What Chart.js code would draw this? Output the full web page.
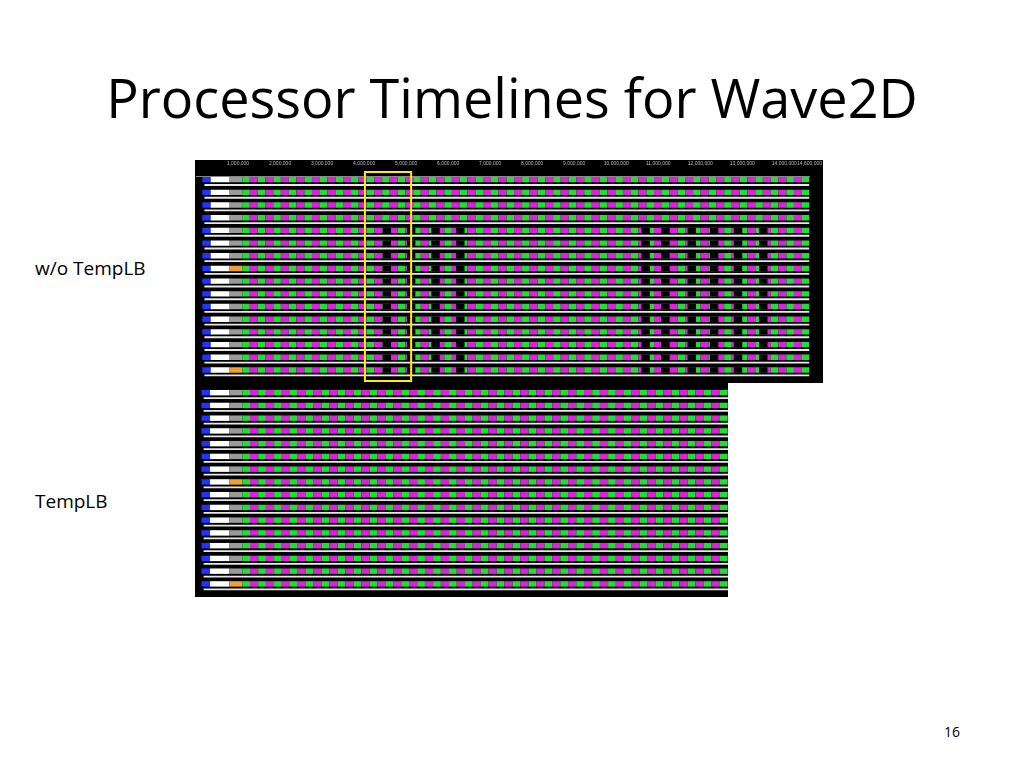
<!DOCTYPE html>
<html>
<head>
<meta charset="utf-8">
<script src="https://cdn.jsdelivr.net/npm/chart.js@4"></script>
<style>
  body { margin: 0; width: 1024px; height: 768px; background: #fff; position: relative; font-family: 'Open Sans', sans-serif; overflow: hidden }
  h1 { position: absolute; left: 0; width: 1024px; top: 60px; margin: 0; text-align: center; font-weight: normal; font-size: 54px; color: #000 }
  .lbl { position: absolute; font-size: 19px; color: #000 }
  .box { position: absolute; background: #000 }
</style>
</head>
<body>
<h1>Processor Timelines for Wave2D</h1>
<div class="lbl" style="left:35px;top:255px">w/o TempLB</div>
<div class="lbl" style="left:35px;top:488px">TempLB</div>
<div class="lbl" style="left:944px;top:722px;font-size:14px">16</div>
<div class="box" style="left:195px;top:160px;width:628px;height:223px"><canvas id="top"></canvas></div>
<div class="box" style="left:195px;top:383px;width:533px;height:214px"><canvas id="bottom"></canvas></div>
<script>
// times in millions of time units
const rows = ['0','1','2','3','4','5','6','7','8','9','10','11','12','13','14','15']
const greenStarts = [1.10,1.47,1.84,2.21,2.58,2.95,3.32,3.69,4.06,4.43,4.80,5.17,5.54,5.91,6.28,6.65,7.02,7.39,7.76,8.13,8.50,8.87,9.24,9.61,9.98,10.35,10.72,11.09,11.46,11.83,12.20,12.57,12.94,13.31,13.68,14.05,14.42]
const magentaStarts = [1.28,1.65,2.02,2.39,2.76,3.13,3.50,3.87,4.24,4.61,4.98,5.35,5.72,6.09,6.46,6.83,7.20,7.57,7.94,8.31,8.68,9.05,9.42,9.79,10.16,10.53,10.90,11.27,11.64,12.01,12.38,12.75,13.12,13.49,13.86,14.23,14.60]
const idleGaps = [4.44, 5.02, 5.60, 6.19, 10.60, 11.07, 11.70, 12.23, 12.80, 13.40]
const gapWidth = 0.2
const gapRowsFrom = 4
const topEnd = 14.6
const bottomEnd = 12.4

function buildSegments(endTime, withGaps) {
  const work = [], colors = [], base = []
  rows.forEach(function(r, i) {
    work.push({ x: [0.15, 0.35], y: r }); colors.push('#2233ff')
    work.push({ x: [0.35, 0.8], y: r }); colors.push('#ffffff')
    work.push({ x: [0.8, 1.1], y: r }); colors.push(i === 7 || i === 15 ? '#f0a030' : '#9a9a9a')
    greenStarts.forEach(function(g, k) {
      if (g >= endTime) return
      const m = Math.min(magentaStarts[k], endTime)
      const next = Math.min(k + 1 < greenStarts.length ? greenStarts[k + 1] : endTime, endTime)
      work.push({ x: [g, m], y: r }); colors.push('#22dd33')
      if (m < next) { work.push({ x: [m, next], y: r }); colors.push('#dd22dd') }
    })
    if (withGaps && i >= gapRowsFrom) {
      idleGaps.forEach(function(t) {
        work.push({ x: [t, t + gapWidth], y: r }); colors.push('#000000')
      })
    }
    base.push({ x: [0.2, endTime], y: r })
  })
  return { work: work, colors: colors, base: base }
}

const highlight = {
  id: 'highlight',
  afterDraw(chart, args, opts) {
    if (!opts.range) return
    const x = chart.scales.x, ctx = chart.ctx
    const a = x.getPixelForValue(opts.range[0]), b = x.getPixelForValue(opts.range[1])
    ctx.save()
    ctx.strokeStyle = '#ffee00'
    ctx.lineWidth = 2
    ctx.strokeRect(a, 12, b - a, chart.chartArea.bottom - 10)
    ctx.restore()
  }
}

function makeChart(id, endTime, withGaps, showAxis, range) {
  const seg = buildSegments(endTime, withGaps)
  return new Chart(document.getElementById(id), {
    type: 'bar',
    data: {
      labels: rows,
      datasets: [
        { data: seg.work, backgroundColor: seg.colors, barPercentage: 1, categoryPercentage: 0.85, grouped: true },
        { data: seg.base, backgroundColor: '#e8e8e8', barPercentage: 0.35, categoryPercentage: 0.85 }
      ]
    },
    options: {
      indexAxis: 'y',
      animation: false,
      responsive: true,
      maintainAspectRatio: false,
      layout: { padding: { left: 0, right: 0, top: showAxis ? 0 : 6, bottom: 4 } },
      plugins: { legend: { display: false }, tooltip: { enabled: false }, highlight: { range: range } },
      scales: {
        x: {
          display: showAxis, position: 'top', min: 0, max: endTime,
          ticks: { stepSize: 1, color: '#bbbbbb', font: { size: 5 }, padding: 1,
            callback: function(v) { return v === 0 ? '' : (v * 1000000).toLocaleString('en-US') } },
          grid: { display: false, drawTicks: true },
          border: { color: '#888888' }
        },
        y: { display: false, offset: true }
      }
    },
    plugins: [highlight]
  })
}

makeChart('top', topEnd, true, true, [4.02, 5.12])
makeChart('bottom', bottomEnd, false, false, null)
</script>
</body>
</html>
